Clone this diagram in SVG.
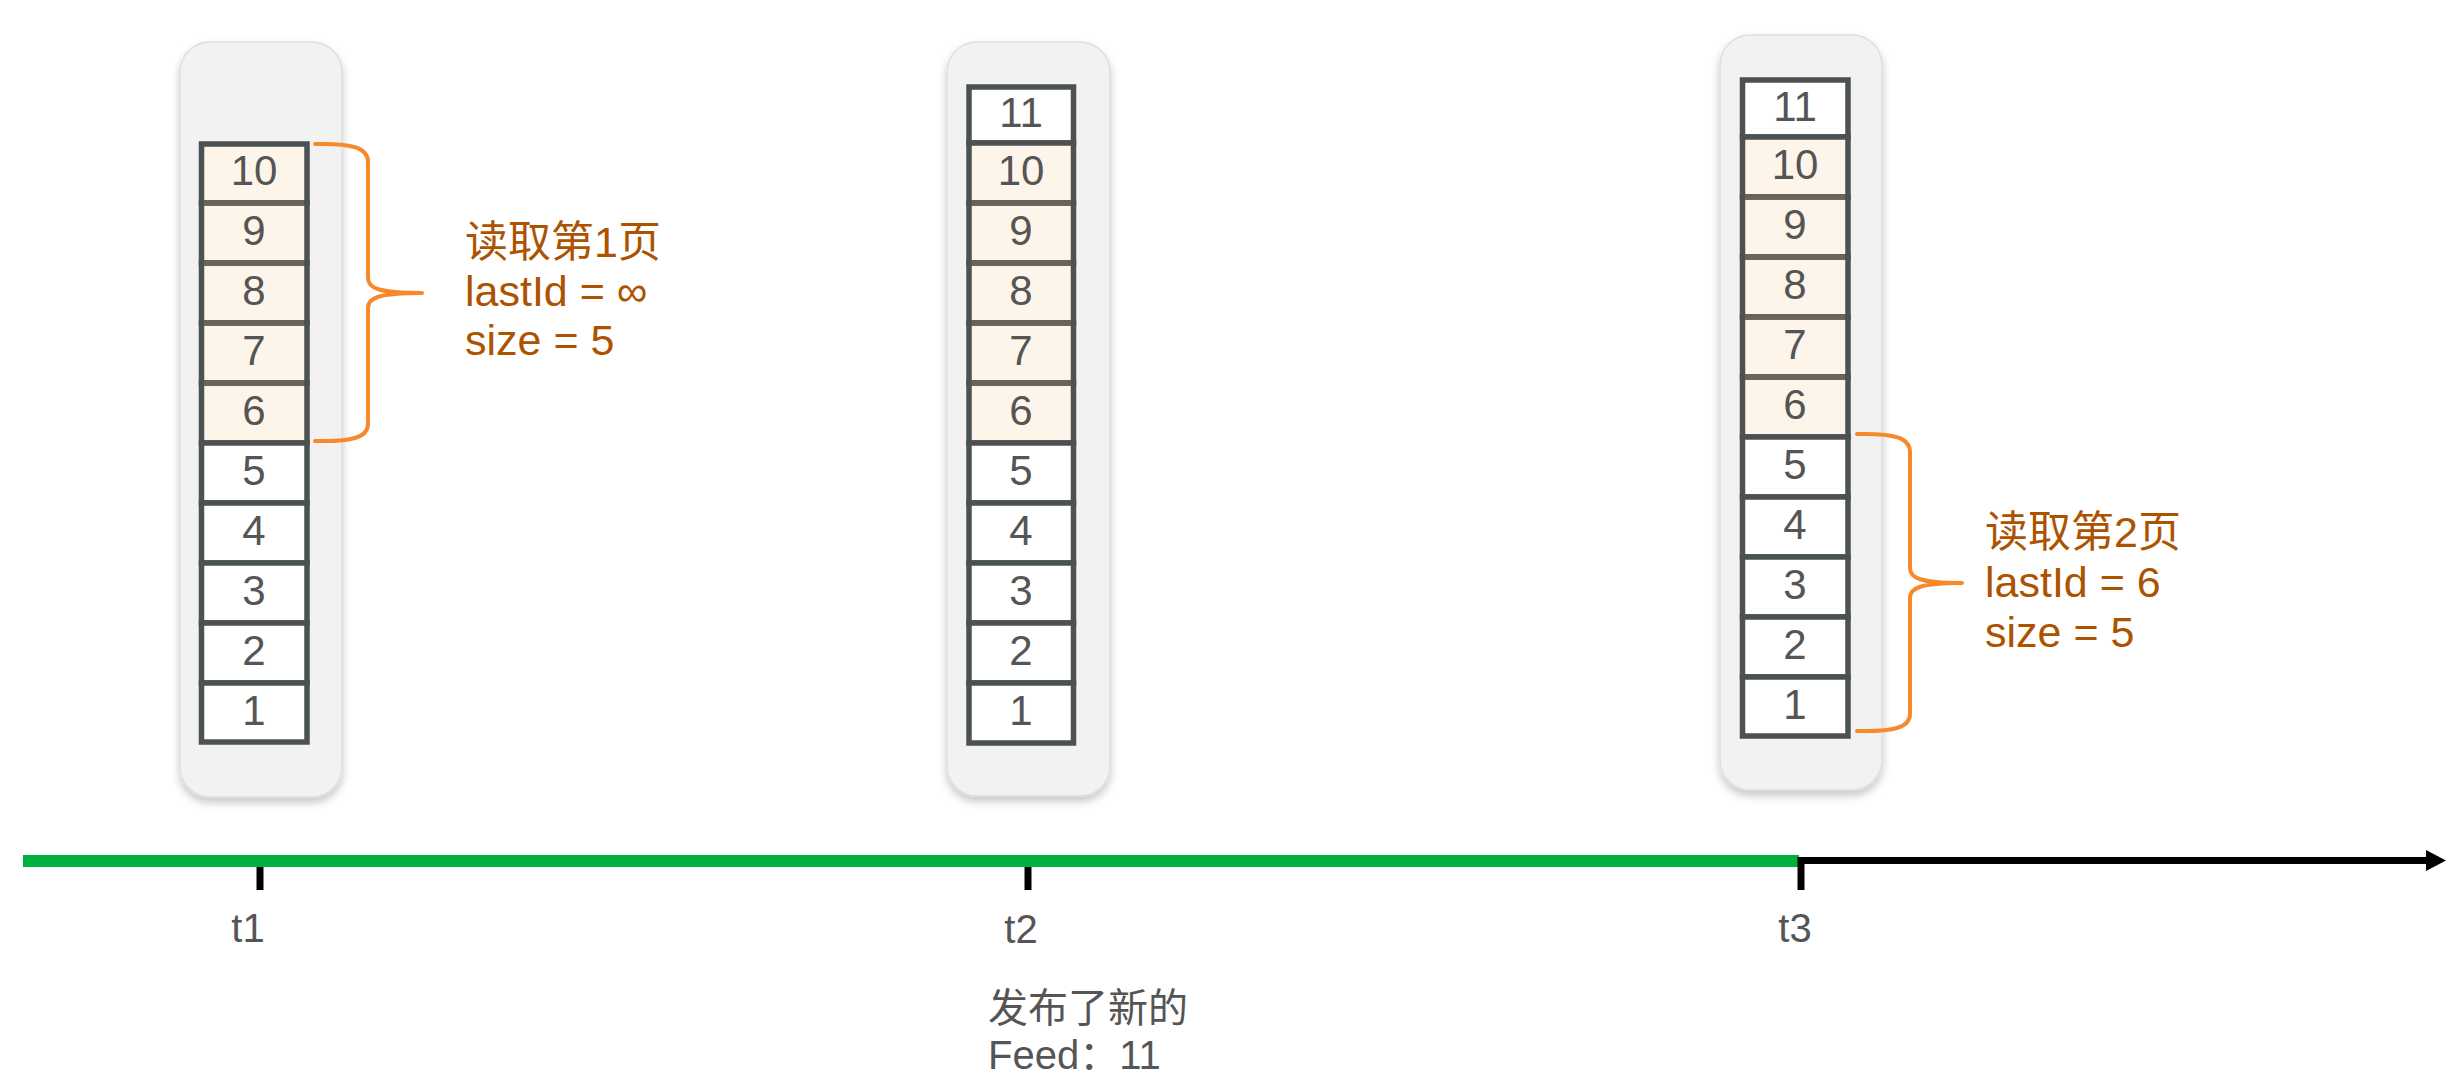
<svg xmlns="http://www.w3.org/2000/svg" width="2458" height="1090" viewBox="0 0 2458 1090">
<defs>
<filter id="sh" x="-20%" y="-5%" width="140%" height="115%">
<feDropShadow dx="0" dy="5" stdDeviation="4" flood-color="#000" flood-opacity="0.22"/>
</filter>
<marker id="arr" markerWidth="20" markerHeight="21" refX="0" refY="10.5" orient="auto" markerUnits="userSpaceOnUse">
<polygon points="0,0 20,10.5 0,21" fill="#000"/>
</marker>
</defs>
<style>
.panel{fill:#f2f2f2;stroke:#dedede;stroke-width:1.5;filter:url(#sh)}
.cell{fill:#fff;stroke:#4b5251;stroke-width:5.5}
.hl{fill:#fdf4ea}
.sep{stroke:#6a6558;stroke-width:5.5}
.num{font-family:"Liberation Sans",Arial,sans-serif;font-size:42px;fill:#555;text-anchor:middle}
.brace{fill:none;stroke:#f8892b;stroke-width:4;stroke-linecap:round}
.note{font-family:"Liberation Sans","Noto Sans CJK SC",sans-serif;font-size:43px;fill:#ad5300}
.lbl{font-family:"Liberation Sans","Noto Sans CJK SC",sans-serif;font-size:40px;fill:#555;text-anchor:middle}
.cap{font-family:"Liberation Sans","Noto Sans CJK SC",sans-serif;font-size:40px;fill:#555}
</style>
<rect width="2458" height="1090" fill="#fff"/>

<g id="list-t1">
<rect class="panel" x="180" y="42" width="162" height="755" rx="30"/>
<rect class="cell hl" x="201.5" y="144" width="105.5" height="59"/>
<rect class="cell hl" x="201.5" y="203" width="105.5" height="60"/>
<rect class="cell hl" x="201.5" y="263" width="105.5" height="60"/>
<rect class="cell hl" x="201.5" y="323" width="105.5" height="60"/>
<rect class="cell hl" x="201.5" y="383" width="105.5" height="60"/>
<rect class="cell" x="201.5" y="443" width="105.5" height="60"/>
<rect class="cell" x="201.5" y="503" width="105.5" height="60"/>
<rect class="cell" x="201.5" y="563" width="105.5" height="60"/>
<rect class="cell" x="201.5" y="623" width="105.5" height="60"/>
<rect class="cell" x="201.5" y="683" width="105.5" height="59"/>
<line class="sep" x1="204" y1="203" x2="304" y2="203"/>
<line class="sep" x1="204" y1="263" x2="304" y2="263"/>
<line class="sep" x1="204" y1="323" x2="304" y2="323"/>
<line class="sep" x1="204" y1="383" x2="304" y2="383"/>
<text class="num" x="254" y="185">10</text>
<text class="num" x="254" y="245">9</text>
<text class="num" x="254" y="305">8</text>
<text class="num" x="254" y="365">7</text>
<text class="num" x="254" y="425">6</text>
<text class="num" x="254" y="485">5</text>
<text class="num" x="254" y="545">4</text>
<text class="num" x="254" y="605">3</text>
<text class="num" x="254" y="665">2</text>
<text class="num" x="254" y="725">1</text>
</g>

<g id="list-t2">
<rect class="panel" x="947" y="42" width="163" height="754" rx="30"/>
<rect class="cell" x="969" y="87" width="104.5" height="56"/>
<rect class="cell hl" x="969" y="143" width="104.5" height="60"/>
<rect class="cell hl" x="969" y="203" width="104.5" height="60"/>
<rect class="cell hl" x="969" y="263" width="104.5" height="60"/>
<rect class="cell hl" x="969" y="323" width="104.5" height="60"/>
<rect class="cell hl" x="969" y="383" width="104.5" height="60"/>
<rect class="cell" x="969" y="443" width="104.5" height="60"/>
<rect class="cell" x="969" y="503" width="104.5" height="60"/>
<rect class="cell" x="969" y="563" width="104.5" height="60"/>
<rect class="cell" x="969" y="623" width="104.5" height="60"/>
<rect class="cell" x="969" y="683" width="104.5" height="60"/>
<line class="sep" x1="971.5" y1="203" x2="1071" y2="203"/>
<line class="sep" x1="971.5" y1="263" x2="1071" y2="263"/>
<line class="sep" x1="971.5" y1="323" x2="1071" y2="323"/>
<line class="sep" x1="971.5" y1="383" x2="1071" y2="383"/>
<text class="num" x="1021" y="127">11</text>
<text class="num" x="1021" y="185">10</text>
<text class="num" x="1021" y="245">9</text>
<text class="num" x="1021" y="305">8</text>
<text class="num" x="1021" y="365">7</text>
<text class="num" x="1021" y="425">6</text>
<text class="num" x="1021" y="485">5</text>
<text class="num" x="1021" y="545">4</text>
<text class="num" x="1021" y="605">3</text>
<text class="num" x="1021" y="665">2</text>
<text class="num" x="1021" y="725">1</text>
</g>

<g id="list-t3">
<rect class="panel" x="1720" y="35" width="162" height="755" rx="30"/>
<rect class="cell" x="1742.5" y="80" width="105.5" height="57"/>
<rect class="cell hl" x="1742.5" y="137" width="105.5" height="60"/>
<rect class="cell hl" x="1742.5" y="197" width="105.5" height="60"/>
<rect class="cell hl" x="1742.5" y="257" width="105.5" height="60"/>
<rect class="cell hl" x="1742.5" y="317" width="105.5" height="60"/>
<rect class="cell hl" x="1742.5" y="377" width="105.5" height="60"/>
<rect class="cell" x="1742.5" y="437" width="105.5" height="60"/>
<rect class="cell" x="1742.5" y="497" width="105.5" height="60"/>
<rect class="cell" x="1742.5" y="557" width="105.5" height="60"/>
<rect class="cell" x="1742.5" y="617" width="105.5" height="60"/>
<rect class="cell" x="1742.5" y="677" width="105.5" height="59"/>
<line class="sep" x1="1745" y1="197" x2="1845" y2="197"/>
<line class="sep" x1="1745" y1="257" x2="1845" y2="257"/>
<line class="sep" x1="1745" y1="317" x2="1845" y2="317"/>
<line class="sep" x1="1745" y1="377" x2="1845" y2="377"/>
<text class="num" x="1795" y="121">11</text>
<text class="num" x="1795" y="179">10</text>
<text class="num" x="1795" y="239">9</text>
<text class="num" x="1795" y="299">8</text>
<text class="num" x="1795" y="359">7</text>
<text class="num" x="1795" y="419">6</text>
<text class="num" x="1795" y="479">5</text>
<text class="num" x="1795" y="539">4</text>
<text class="num" x="1795" y="599">3</text>
<text class="num" x="1795" y="659">2</text>
<text class="num" x="1795" y="719">1</text>
</g>

<g id="page1-note">
<path class="brace" d="M315,144 C353,143 368,148 368,162 L368,278 C368,288 378,293 422,293 M422,293 C378,293 368,298 368,308 L368,424 C368,437 353,442 315,441"/>
<text class="note" x="465" y="257">读取第1页</text>
<text class="note" x="465" y="306">lastId = ∞</text>
<text class="note" x="465" y="355">size = 5</text>
</g>

<g id="page2-note">
<path class="brace" d="M1857,434 C1895,433 1910,438 1910,452 L1910,568 C1910,578 1920,583 1962,583 M1962,583 C1920,583 1910,588 1910,598 L1910,714 C1910,727 1895,732 1857,731"/>
<text class="note" x="1985" y="547">读取第2页</text>
<text class="note" x="1985" y="597">lastId = 6</text>
<text class="note" x="1985" y="647">size = 5</text>
</g>

<g id="connectors">
<line x1="23" y1="861" x2="1799" y2="861" stroke="#00b140" stroke-width="12" stroke-linecap="butt"/>
<line x1="1801" y1="860.5" x2="2426" y2="860.5" stroke="#000" stroke-width="7" marker-end="url(#arr)"/>
<line x1="260" y1="867" x2="260" y2="890" stroke="#000" stroke-width="7"/>
<line x1="1028" y1="867" x2="1028" y2="890" stroke="#000" stroke-width="7"/>
<line x1="1801" y1="857" x2="1801" y2="890" stroke="#000" stroke-width="7"/>
</g>

<g id="labels">
<text class="lbl" x="248" y="942">t1</text>
<text class="lbl" x="1021" y="943">t2</text>
<text class="lbl" x="1795" y="942">t3</text>
<text class="cap" x="988" y="1022">发布了新的</text>
<text class="cap" x="988" y="1069">Feed：11</text>
</g>
</svg>
